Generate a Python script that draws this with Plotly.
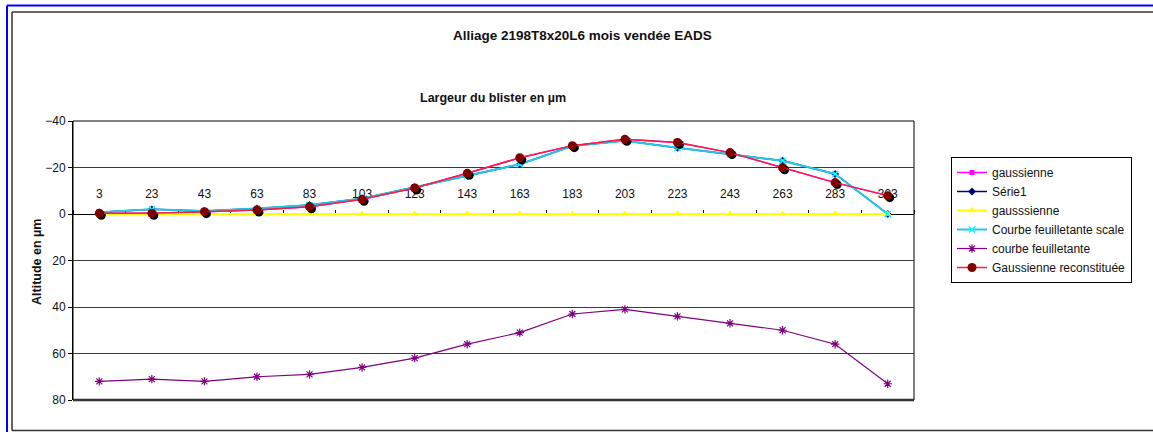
import plotly.graph_objects as go

categories = ["3", "23", "43", "63", "83", "103", "123", "143", "163", "183",
              "203", "223", "243", "263", "283", "303"]
gaussienne = [-0.3, -0.3, -1.0, -1.7, -3.1, -6.3, -11.2, -17.5, -24.2, -29.4,
              -32.1, -30.8, -26.4, -19.9, -13.5, -7.9]
serie1 = [-0.7, -2.0, -1.3, -2.4, -3.9, -6.7, -11.5, -16.5, -21.4, -29.2,
          -31.5, -28.5, -25.7, -22.9, -17.2, 0.0]
gausssienne = [0, 0, 0, 0, 0, 0, 0, 0, 0, 0, 0, 0, 0, 0, 0, 0]
feuilletante_scale = [-0.7, -2.0, -1.3, -2.4, -3.9, -6.7, -11.5, -16.5, -21.4, -29.2,
                      -31.5, -28.5, -25.7, -22.9, -17.2, 0.0]
feuilletante = [72, 71, 72, 70, 69, 66, 62, 56, 51, 43, 41, 44, 47, 50, 56, 73]
reconstituee = [-0.3, -0.3, -1.0, -1.7, -3.1, -6.3, -11.2, -17.5, -24.2, -29.4,
                -32.1, -30.8, -26.4, -19.9, -13.5, -7.9]
y_ticks = [-40, -20, 0, 20, 40, 60, 80]

W, H = 1153, 432
L, R, T, B = 73, 914, 121, 400
FONT = "Liberation Sans, Arial, sans-serif"


def xp(px):
    return (px - L) / (R - L)


def yp(py):
    return (B - py) / (B - T)


n = len(categories)
cat_px = (R - L) / n
unit_px = (B - T) / 120.0
dx = 2 / cat_px
dy = 2 / unit_px

fig = go.Figure()

fig.add_trace(go.Scatter(x=categories, y=gaussienne, name="gaussienne", mode="lines+markers",
                         line=dict(color="#ff00ff", width=1.5),
                         marker=dict(symbol="square", size=5, color="#ff00ff"),
                         xaxis="x", yaxis="y"))
fig.add_trace(go.Scatter(x=categories, y=serie1, name="Série1", mode="lines+markers",
                         line=dict(color="#000080", width=1.5),
                         marker=dict(symbol="diamond", size=6, color="#000080"),
                         xaxis="x", yaxis="y"))
fig.add_trace(go.Scatter(x=categories, y=gausssienne, name="gausssienne", mode="lines+markers",
                         line=dict(color="#ffff00", width=2),
                         marker=dict(symbol="triangle-up", size=7, color="#ffff00"),
                         xaxis="x", yaxis="y"))
fig.add_trace(go.Scatter(x=categories, y=feuilletante_scale, name="Courbe feuilletante scale",
                         mode="lines+markers",
                         line=dict(color="#22c8e6", width=2),
                         marker=dict(symbol="x-thin-open", size=6, color="#00ffff",
                                     line=dict(color="#00e0ff", width=1.5)),
                         xaxis="x", yaxis="y"))
fig.add_trace(go.Scatter(x=categories, y=feuilletante, name="courbe feuilletante",
                         mode="lines+markers",
                         line=dict(color="#800080", width=1.2),
                         marker=dict(symbol="asterisk-open", size=7, color="#800080",
                                     line=dict(color="#a020a0", width=1.2)),
                         xaxis="x", yaxis="y"))
# shadow of the reconstructed gaussian markers
fig.add_trace(go.Scatter(x=categories, y=reconstituee, name="shadow", mode="markers",
                         showlegend=False, hoverinfo="skip",
                         marker=dict(symbol="circle", size=9, color="#000000"),
                         xaxis="x2", yaxis="y2"))
fig.add_trace(go.Scatter(x=categories, y=reconstituee, name="Gaussienne reconstituée",
                         mode="lines+markers",
                         line=dict(color="#ff1a40", width=1.5),
                         marker=dict(symbol="circle", size=9, color="#800000"),
                         xaxis="x3", yaxis="y3"))

base_x = dict(type="category", categoryorder="array", categoryarray=categories)

fig.update_layout(
    width=W, height=H,
    margin=dict(l=L, r=W - R, t=T, b=H - B, pad=0),
    paper_bgcolor="white", plot_bgcolor="white",
    font=dict(family=FONT, size=12, color="#111"),
    showlegend=True,
    xaxis=dict(**base_x, range=[-0.5, n - 0.5], anchor="free", position=yp(214),
               side="top", showline=True, linecolor="black", linewidth=1,
               ticks="outside", ticklen=4, tickcolor="black", tickson="boundaries",
               ticklabelstandoff=11, layer="below traces",
               showgrid=False, zeroline=False,
               tickfont=dict(family=FONT, size=12, color="#111")),
    yaxis=dict(range=[80, -40], tickvals=y_ticks, ticks="outside", ticklen=4,
               tickcolor="black", showline=True, linecolor="black", linewidth=1,
               showgrid=True, gridcolor="#3a3a3a", gridwidth=1, zeroline=False,
               layer="below traces",
               tickfont=dict(family=FONT, size=12, color="#111")),
    xaxis2=dict(**base_x, range=[-0.5 - dx, n - 0.5 - dx], overlaying="x", visible=False),
    yaxis2=dict(range=[80 - dy, -40 - dy], overlaying="y", visible=False, anchor="x2"),
    xaxis3=dict(**base_x, range=[-0.5, n - 0.5], overlaying="x", visible=False),
    yaxis3=dict(range=[80, -40], overlaying="y", visible=False, anchor="x3"),
    legend=dict(x=xp(951), y=yp(157), xanchor="left", yanchor="top",
                bordercolor="black", borderwidth=1, bgcolor="white",
                font=dict(family=FONT, size=12, color="#111"),
                tracegroupgap=0, itemwidth=30),
)

fig.add_annotation(text="<b>Alliage 2198T8x20L6 mois vendée EADS</b>", xref="paper", yref="paper",
                   x=xp(582), y=yp(36), showarrow=False, xanchor="center", yanchor="middle",
                   font=dict(family=FONT, size=13.5, color="#111"))
fig.add_annotation(text="<b>Largeur du blister en µm</b>", xref="paper", yref="paper",
                   x=xp(493), y=yp(98), showarrow=False, xanchor="center", yanchor="middle",
                   font=dict(family=FONT, size=12.5, color="#111"))
fig.add_annotation(text="<b>Altitude en µm</b>", xref="paper", yref="paper",
                   x=xp(37), y=yp(262), showarrow=False, xanchor="center", yanchor="middle",
                   textangle=-90, font=dict(family=FONT, size=12.5, color="#111"))

# plot area frame
fig.add_shape(type="rect", xref="paper", yref="paper", x0=0, x1=1, y0=0, y1=1,
              line=dict(color="black", width=1), layer="below")
fig.add_shape(type="line", xref="paper", yref="paper", x0=0, x1=1, y0=0, y1=0,
              line=dict(color="#333", width=2.5), layer="above")
# outer borders (top, left, bottom segments only; right edges lie beyond the picture)
fig.add_shape(type="line", xref="paper", yref="paper", x0=xp(7), x1=xp(1160),
              y0=yp(5.5), y1=yp(5.5), line=dict(color="blue", width=2))
fig.add_shape(type="line", xref="paper", yref="paper", x0=xp(7), x1=xp(7),
              y0=yp(5.5), y1=yp(432), line=dict(color="blue", width=2))
fig.add_shape(type="line", xref="paper", yref="paper", x0=xp(12), x1=xp(1160),
              y0=yp(12), y1=yp(12), line=dict(color="#333", width=1.5))
fig.add_shape(type="line", xref="paper", yref="paper", x0=xp(12), x1=xp(12),
              y0=yp(12), y1=yp(430.5), line=dict(color="#333", width=1.5))
fig.add_shape(type="line", xref="paper", yref="paper", x0=xp(12), x1=xp(1160),
              y0=yp(430.5), y1=yp(430.5), line=dict(color="#333", width=1.5))

fig.write_html("out.html", config={"displayModeBar": False},
               post_script="document.body.style.margin='0px';document.body.style.overflow='hidden';")
